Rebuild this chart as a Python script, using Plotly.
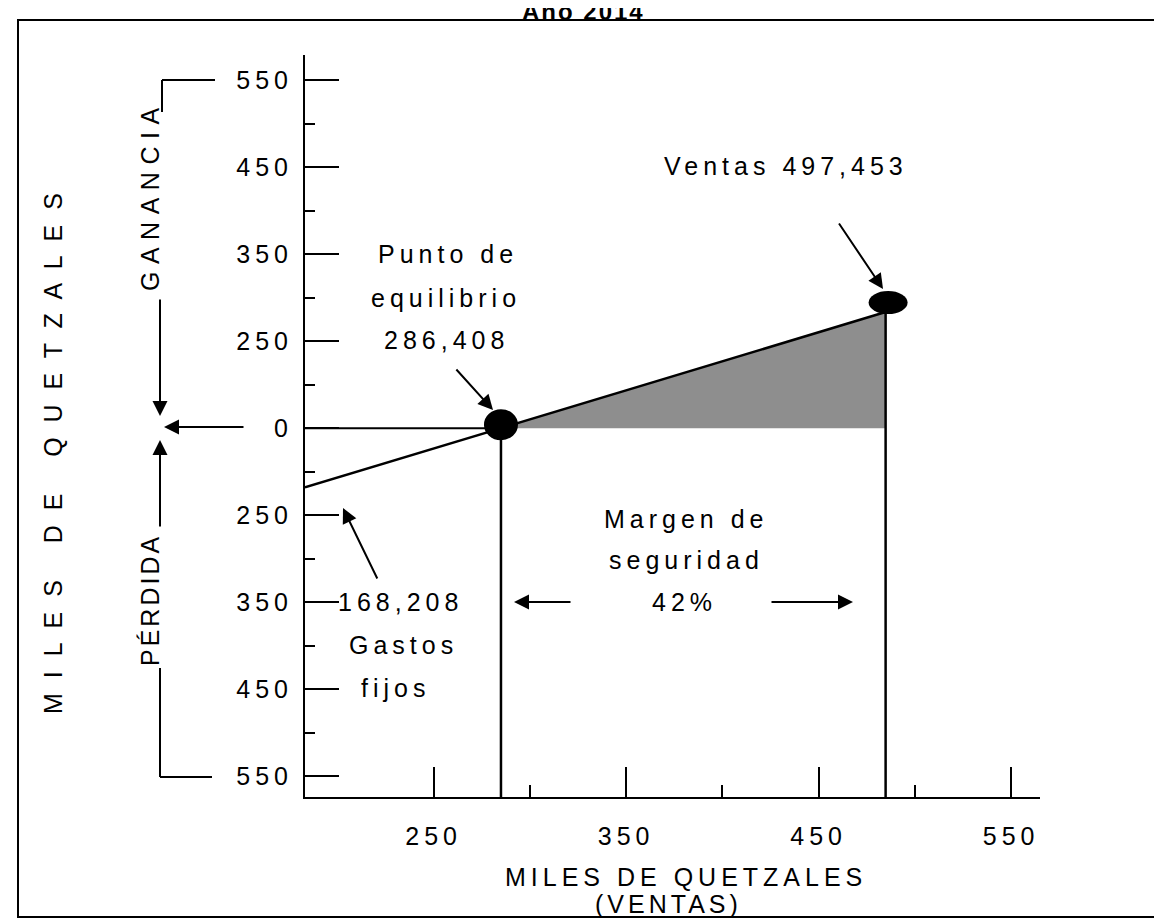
import plotly.graph_objects as go

# ---------------- data ----------------
x_tick_vals = [250, 350, 450, 550]
x_tick_labels = ["250", "350", "450", "550"]
x_minor_vals = [300, 400, 500]

y_tick_vals = [4, 3, 2, 1, 0, -1, -2, -3, -4]
y_tick_labels = ["550", "450", "350", "250", "0", "250", "350", "450", "550"]
y_minor_vals = [3.5, 2.5, 1.5, 0.5, -0.5, -1.5, -2.5, -3.5]

x_range = [183.2, 565.0]
y_range = [-4.24, 4.29]

cost_line_x = [183.2, 285.0, 484.8]     # fixed-cost start, break-even, sales
cost_line_y = [-0.68, 0.0, 1.335]
breakeven_x = 285.0
breakeven_y = 0.0
sales_x = 484.8
sales_y = 1.335

# ---------------- geometry helpers ----------------
OFF = 8                      # page body margin of the browser
W_REF, H_REF = 1162, 919
L, R, T, B = 305, 1040, 55, 797          # plot area in page pixels
PW, PH = R - L, B - T
FONT = "Liberation Sans, Arial, sans-serif"
FS = 25


def P(px, py):
    return (px - L) / PW, (B - py) / PH


def ls(s, sp):
    return f'<span style="letter-spacing:{sp}px">{s}</span>'


fig = go.Figure()

# shaded profit area
fig.add_trace(go.Scatter(
    x=[breakeven_x, sales_x, sales_x, breakeven_x],
    y=[breakeven_y, sales_y, 0, breakeven_y],
    fill="toself", fillcolor="#8e8e8e", line=dict(width=0),
    mode="lines", hoverinfo="skip", showlegend=False))

# zero line from axis to break-even
fig.add_trace(go.Scatter(
    x=[x_range[0], breakeven_x], y=[0, 0], mode="lines",
    line=dict(color="black", width=2), showlegend=False))

# cost / revenue line
fig.add_trace(go.Scatter(
    x=cost_line_x, y=cost_line_y, mode="lines",
    line=dict(color="black", width=2.5), showlegend=False))

# vertical drop lines
fig.add_trace(go.Scatter(
    x=[breakeven_x, breakeven_x], y=[y_range[0], breakeven_y], mode="lines",
    line=dict(color="black", width=2.5), showlegend=False))
fig.add_trace(go.Scatter(
    x=[sales_x, sales_x], y=[y_range[0], sales_y], mode="lines",
    line=dict(color="black", width=2.5), showlegend=False))

shapes = []
# dots (ellipses anchored at data points, sized in pixels)
shapes.append(dict(type="circle", xref="x", yref="y", xsizemode="pixel", ysizemode="pixel",
                   xanchor=breakeven_x, yanchor=breakeven_y,
                   x0=-17, x1=17, y0=-12, y1=19, fillcolor="black", line=dict(width=0)))
shapes.append(dict(type="circle", xref="x", yref="y", xsizemode="pixel", ysizemode="pixel",
                   xanchor=sales_x, yanchor=sales_y,
                   x0=-17, x1=22, y0=-2, y1=21, fillcolor="black", line=dict(width=0)))

# outer border
bx0, by0 = P(18, 20)
bx1, by1 = P(1160, 917)
shapes.append(dict(type="rect", xref="paper", yref="paper", x0=bx0, y0=by1, x1=bx1, y1=by0,
                   line=dict(color="black", width=2)))


def seg(p1, p2, w=2):
    a = P(*p1)
    b = P(*p2)
    shapes.append(dict(type="line", xref="paper", yref="paper",
                       x0=a[0], y0=a[1], x1=b[0], y1=b[1],
                       line=dict(color="black", width=w)))


# brackets on the left
seg((162, 80), (215, 80))
seg((162, 80), (162, 112))
seg((160, 668), (160, 777))
seg((160, 777), (212, 777))

annotations = []


def text(s, px, py, size=FS, sp=5, angle=0, bold=False, xanchor="center"):
    x, y = P(px, py)
    if bold:
        s = f"<b>{s}</b>"
    annotations.append(dict(text=ls(s, sp), x=x, y=y, xref="paper", yref="paper",
                            showarrow=False, textangle=angle, xanchor=xanchor, yanchor="middle",
                            font=dict(family=FONT, size=size, color="black")))


def arrow(tail, head, size=1.5, width=2):
    x, y = P(*head)
    annotations.append(dict(text="", x=x, y=y, xref="paper", yref="paper",
                            ax=tail[0] - head[0], ay=tail[1] - head[1],
                            showarrow=True, arrowhead=2, arrowsize=size, arrowwidth=width,
                            arrowcolor="black", standoff=0, startstandoff=0))


# title (partly cut off at the top, as in the reference)
text("Año 2014", 583, 11, size=24, sp=2, bold=True)

text("Ventas 497,453", 786, 166)
text("Punto de", 448, 254)
text("equilibrio", 446, 298)
text("286,408", 446, 340)
text("Margen de", 686, 519)
text("seguridad", 686, 560)
text("42%", 684, 602)
text("168,208", 336, 602, xanchor="left")
text("Gastos", 403, 645)
text("fijos", 395, 688)

text("MILES DE QUETZALES", 686, 877, sp=5)
text("(VENTAS)", 668, 904, sp=4)

text("GANANCIA", 150, 196, sp=7.5, angle=-90)
text("PÉRDIDA", 150, 600, sp=3, angle=-90)
text("M I L E S   D E   Q U E T Z A L E S", 53, 452, sp=4, angle=-90)

arrow((838, 222), (883, 289))
arrow((455, 368), (493, 410))
arrow((378, 580), (343, 508))
arrow((572, 602), (514, 602))
arrow((770, 602), (853, 602))
arrow((245, 427), (164, 427))
arrow((160, 298), (160, 416))
arrow((160, 528), (160, 440))

fig.update_layout(
    width=W_REF - OFF, height=H_REF - OFF, autosize=False,
    margin=dict(l=L - OFF, r=W_REF - R, t=T - OFF, b=H_REF - B, pad=0),
    paper_bgcolor="white", plot_bgcolor="white",
    showlegend=False, shapes=shapes, annotations=annotations,
    font=dict(family=FONT, color="black"),
    xaxis=dict(range=x_range, showgrid=False, zeroline=False,
               showline=True, linecolor="black", linewidth=2,
               tickmode="array", tickvals=x_tick_vals,
               ticktext=[ls(t, 5) for t in x_tick_labels],
               ticks="inside", ticklen=30, tickwidth=2, tickcolor="black",
               ticklabelstandoff=16,
               tickfont=dict(family=FONT, size=FS, color="black"),
               minor=dict(tickmode="array", tickvals=x_minor_vals, ticks="inside",
                          ticklen=12, tickwidth=2, tickcolor="black", showgrid=False)),
    yaxis=dict(range=y_range, showgrid=False, zeroline=False,
               showline=True, linecolor="black", linewidth=2,
               tickmode="array", tickvals=y_tick_vals,
               ticktext=[ls(t, 5) for t in y_tick_labels],
               ticks="inside", ticklen=34, tickwidth=2, tickcolor="black",
               ticklabelstandoff=5,
               tickfont=dict(family=FONT, size=FS, color="black"),
               minor=dict(tickmode="array", tickvals=y_minor_vals, ticks="inside",
                          ticklen=10, tickwidth=2, tickcolor="black", showgrid=False)),
)

fig.write_html("out.html")
